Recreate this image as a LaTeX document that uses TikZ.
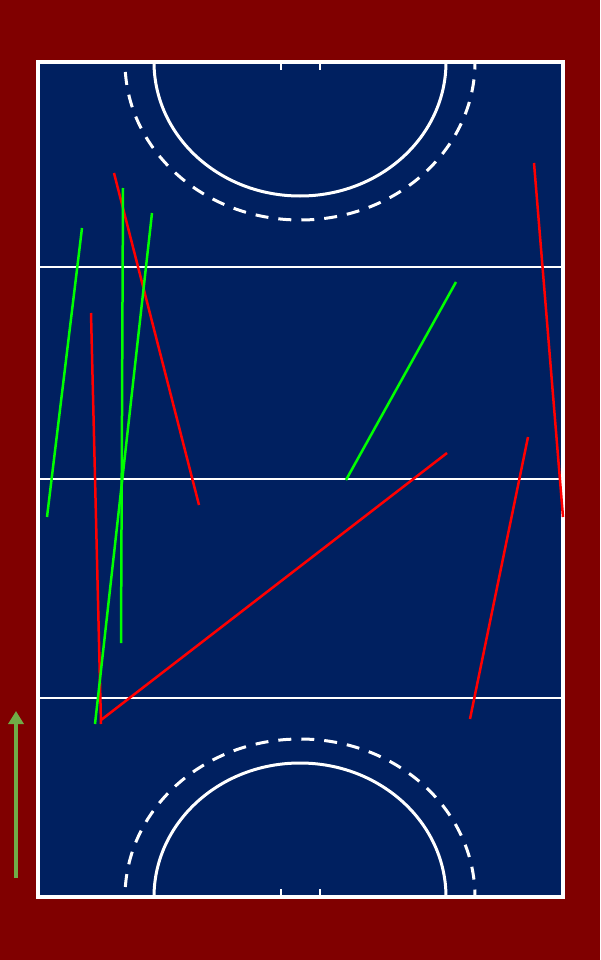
\documentclass[tikz,border=0pt]{standalone}
\usetikzlibrary{arrows.meta}
\definecolor{maroonbg}{HTML}{800000}
\definecolor{fieldblue}{HTML}{002060}
\definecolor{arrowgreen}{HTML}{70AD47}
\definecolor{mvred}{HTML}{FF0000}
\definecolor{mvgreen}{HTML}{00FF00}
\tikzset{
  fieldline/.style={white, line width=2pt},
  circleline/.style={white, line width=3pt},
  dashline/.style={white, line width=3pt, dash pattern=on 13pt off 10pt, dash phase=13pt},
  tickline/.style={white, line width=2pt},
  redmove/.style={mvred, line width=2.5pt},
  greenmove/.style={mvgreen, line width=2.5pt},
}
\begin{document}
\begin{tikzpicture}[x=1pt,y=-1pt]
\useasboundingbox (0,0) rectangle (600,960);
\fill[maroonbg] (0,0) rectangle (600,960);
\fill[fieldblue] (37.5,62) rectangle (562.5,897);
% halfway / quarter lines
\draw[fieldline] (39.5,267) -- (560.5,267);
\draw[fieldline] (39.5,479) -- (560.5,479);
\draw[fieldline] (39.5,698) -- (560.5,698);
% top circle
\draw[circleline] (154,62) arc[start angle=180, end angle=360, x radius=146pt, y radius=134pt];
\draw[dashline] (125,62) arc[start angle=180, end angle=360, x radius=175pt, y radius=158pt];
% bottom circle
\draw[circleline] (154,897) arc[start angle=180, end angle=0, x radius=146pt, y radius=134pt];
\draw[dashline] (125,897) arc[start angle=180, end angle=0, x radius=175pt, y radius=158pt];
% ticks
\draw[tickline] (281,62) -- (281,70);
\draw[tickline] (320,62) -- (320,70);
\draw[tickline] (281,889) -- (281,897);
\draw[tickline] (320,889) -- (320,897);
% border
\draw[white, line width=4pt] (37.5,62) rectangle (562.5,897);
% movements
\coordinate (r1a) at (114,173); \coordinate (r1b) at (199,505);
\coordinate (r2a) at (91,313);  \coordinate (r2b) at (101,724);
\coordinate (r3a) at (447,453); \coordinate (r3b) at (101,720);
\coordinate (r4a) at (534,163); \coordinate (r4b) at (563,517);
\coordinate (r5a) at (528,437); \coordinate (r5b) at (470,719);
\coordinate (g1a) at (82,228);  \coordinate (g1b) at (47,517);
\coordinate (g2a) at (123,188); \coordinate (g2b) at (121,643);
\coordinate (g3a) at (152,213); \coordinate (g3b) at (95,724);
\coordinate (g4a) at (456,282); \coordinate (g4b) at (346,480);
\draw[redmove] (r1a) -- (r1b);
\draw[redmove] (r2a) -- (r2b);
\draw[redmove] (r3a) -- (r3b);
\draw[redmove] (r4a) -- (r4b);
\draw[redmove] (r5a) -- (r5b);
\draw[greenmove] (g1a) -- (g1b);
\draw[greenmove] (g2a) -- (g2b);
\draw[greenmove] (g3a) -- (g3b);
\draw[greenmove] (g4a) -- (g4b);
% direction arrow
\coordinate (arrS) at (16,878);
\coordinate (arrE) at (16,711);
\draw[arrowgreen, line width=4pt, -{Triangle[length=13pt,width=15pt]}] (arrS) -- (arrE);
\end{tikzpicture}
\end{document}
